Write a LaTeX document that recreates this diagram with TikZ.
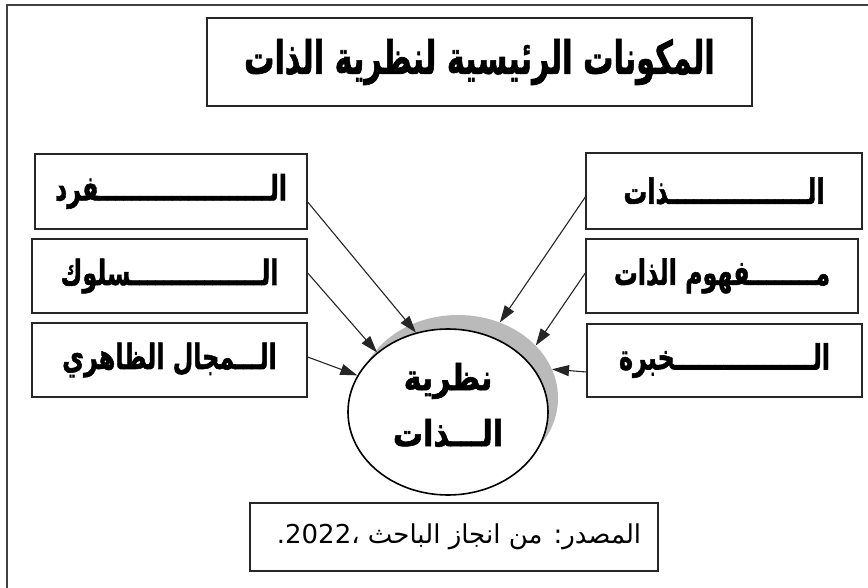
\documentclass[tikz,border=0pt]{standalone}
\usepackage{fontspec}
\usetikzlibrary{shapes.geometric,arrows.meta}
\newfontfamily\arabicfont[Script=Arabic]{DejaVu Sans}
\newfontfamily\arabicheavy[Script=Arabic,FakeBold=1.6]{DejaVu Sans Bold}
\TeXXeTstate=1
\tikzset{
  box/.style={draw=black!85, line width=1.4pt, fill=white, inner sep=0pt},
  lbl/.style={font=\arabicheavy\fontsize{29}{32}\selectfont},
  arr/.style={draw=black!85, line width=1.1pt, -{Triangle[length=17pt,width=11pt]}},
}
\begin{document}
\begin{tikzpicture}[x=1pt,y=-1pt]
\useasboundingbox (0,0) rectangle (868,588);
\fill[white] (0,0) rectangle (868,588);
\draw[line width=2pt, black!75] (7,588) -- (7,5) -- (868,5);
% title
\node[box, line width=2.6pt, minimum width=545pt, minimum height=88pt] (title) at (479.5,62)
  {\arabicheavy\fontsize{34}{40}\selectfont\scalebox{0.89}[1.35]{\beginR المكونات الرئيسية لنظرية الذات\endR}};
% left boxes
\node[box, lbl, minimum width=272pt, minimum height=75pt] (l1) at (171,191.5) {\scalebox{0.82}[1.2]{\beginR الـــــــــــــــــــــفرد\endR}};
\node[box, lbl, minimum width=275pt, minimum height=74pt] (l2) at (169.5,276) {\scalebox{0.82}[1.2]{\beginR الــــــــــــــــسلوك\endR}};
\node[box, lbl, minimum width=275pt, minimum height=74pt] (l3) at (169.5,360) {\scalebox{0.82}[1.2]{\beginR الـــمجال الظاهري\endR}};
% right boxes
\node[box, lbl, minimum width=276pt, minimum height=76pt] (r1) at (724,191) {\scalebox{0.82}[1.2]{\beginR الـــــــــــــــــذات\endR}};
\node[box, lbl, minimum width=272pt, minimum height=74pt] (r2) at (722,276) {\scalebox{0.82}[1.2]{\beginR مــــــــفهوم الذات\endR}};
\node[box, lbl, minimum width=275pt, minimum height=73pt] (r3) at (724.5,360.5) {\scalebox{0.82}[1.2]{\beginR الـــــــــــــــــخبرة\endR}};
% centre ellipse with shadow
\node[ellipse, fill=black!27, minimum width=200pt, minimum height=166pt, inner sep=0pt] (s) at (458,398) {};
\node[ellipse, draw=black, line width=1.6pt, fill=white, minimum width=200pt, minimum height=166pt, inner sep=0pt] (c) at (448,412) {};
\node[align=center, inner sep=0pt, font=\arabicheavy\fontsize{30}{56}\selectfont] (ct) at ([yshift=7pt]c.center)
  {\scalebox{1}[1.2]{\beginR نظرية\endR}\\\scalebox{1}[1.2]{\beginR الـــذات\endR}};
% source box
\node[box, minimum width=408pt, minimum height=68pt] (src) at (454,537) {};
\node[anchor=east, font=\arabicfont\fontsize{26}{30}\selectfont] (srct) at ([xshift=-14pt]src.east)
  {\beginR المصدر: من انجاز الباحث ،\beginL2022\endL.\endR};
% arrows
\draw[arr] ([yshift=-10.5pt]l1.east) -- (c.112);
\draw[arr] ([yshift=3pt]l2.east) -- (c.140);
\draw[arr] ([yshift=3pt]l3.east) -- (c.158);
\draw[arr] ([yshift=-6pt]r1.west) -- (s.61);
\draw[arr] ([yshift=3pt]r2.west) -- (s.34);
\draw[arr] ([yshift=-11.5pt]r3.west) -- (s.17);
\end{tikzpicture}
\end{document}
